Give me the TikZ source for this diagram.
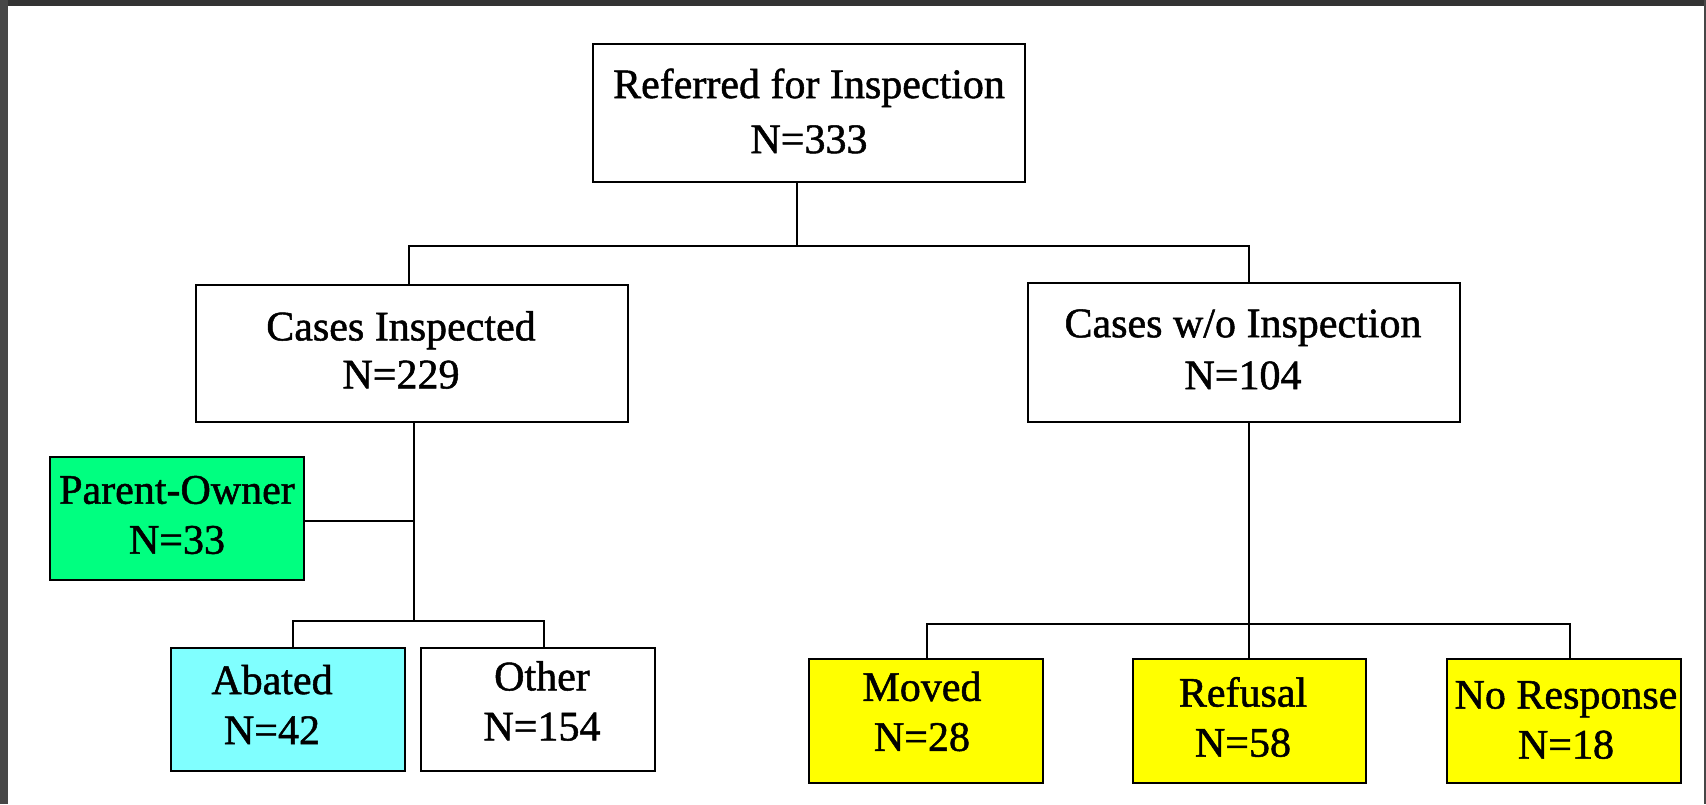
\documentclass[tikz,border=0pt]{standalone}
\usepackage{fontspec}
\setmainfont[FakeBold=1.2,AutoFakeBold=1.2]{Liberation Serif}
\definecolor{frame}{HTML}{333333}
\definecolor{frameL}{HTML}{474747}
\definecolor{pogreen}{HTML}{00FF80}
\definecolor{abcyan}{HTML}{80FFFF}
\definecolor{ylw}{HTML}{FFFF00}
\tikzset{
  boxnode/.style={draw=black, line width=2.8pt, rectangle, inner sep=0pt, fill=white},
  txt/.style={inner sep=0pt, align=center, font=\fontsize{42}{50}\selectfont},
  conn/.style={draw=black, line width=2.2pt},
}
\begin{document}
\begin{tikzpicture}[x=1pt,y=-1pt]
% background and frame
\fill[white] (0,0) rectangle (1706,804);
\useasboundingbox (0,0) rectangle (1706,804);
\fill[frame] (0,0) rectangle (1706,6);
\fill[frameL] (0,0) rectangle (8,804);
\fill[frameL] (1704,0) rectangle (1706,804);

% boxes
\node[boxnode, minimum width=432pt, minimum height=138pt] (root) at (809,113) {};
\node[boxnode, minimum width=432pt, minimum height=137pt] (ci) at (412,353.5) {};
\node[boxnode, minimum width=432pt, minimum height=139pt] (cwo) at (1244,352.5) {};
\node[boxnode, fill=pogreen, minimum width=254pt, minimum height=123pt] (po) at (177,518.5) {};
\node[boxnode, fill=abcyan, minimum width=234pt, minimum height=123pt] (ab) at (288,709.5) {};
\node[boxnode, minimum width=234pt, minimum height=123pt] (oth) at (538,709.5) {};
\node[boxnode, fill=ylw, minimum width=234pt, minimum height=124pt] (mov) at (926,721) {};
\node[boxnode, fill=ylw, minimum width=233pt, minimum height=124pt] (ref) at (1249.5,721) {};
\node[boxnode, fill=ylw, minimum width=234pt, minimum height=124pt] (nr) at (1564,721) {};

% texts
\node[txt, font=\fontsize{42}{55}\selectfont] (troot) at (809,111) {Referred for Inspection\\N=333};
\node[txt, font=\fontsize{42}{48}\selectfont] (tci) at (401,350) {Cases Inspected\\N=229};
\node[txt, font=\fontsize{42}{52}\selectfont] (tcwo) at (1243,349.5) {Cases w/o Inspection\\N=104};
\node[txt] (tpo) at (177,515) {Parent-Owner\\N=33};
\node[txt] (tab) at (272,704.5) {Abated\\N=42};
\node[txt] (toth) at (542,701) {Other\\N=154};
\node[txt] (tmov) at (922,711.5) {Moved\\N=28};
\node[txt] (tref) at (1243,717) {Refusal\\N=58};
\node[txt] (tnr) at (1566,720) {No Response\\N=18};

% junction coordinates
\coordinate (h0M) at (797,246);
\coordinate (h0L) at (409,246);
\coordinate (h0R) at (1249,246);
\coordinate (vL) at (414,521);
\coordinate (h1M) at (414,621);
\coordinate (h1L) at (293,621);
\coordinate (h1R) at (544,621);
\coordinate (h2M) at (1249,624);
\coordinate (h2L) at (927,624);
\coordinate (h2R) at (1570,624);

% connectors
\draw[conn] (root.south -| h0M) -- (h0M);
\draw[conn] (ci.north -| h0L) -- (h0L) -- (h0R) -- (cwo.north -| h0R);
\draw[conn] (ci.south -| vL) -- (h1M);
\draw[conn] (po.east |- vL) -- (vL);
\draw[conn] (ab.north -| h1L) -- (h1L) -- (h1R) -- (oth.north -| h1R);
\draw[conn] (cwo.south -| h2M) -- (ref.north -| h2M);
\draw[conn] (mov.north -| h2L) -- (h2L) -- (h2R) -- (nr.north -| h2R);
\end{tikzpicture}
\end{document}
